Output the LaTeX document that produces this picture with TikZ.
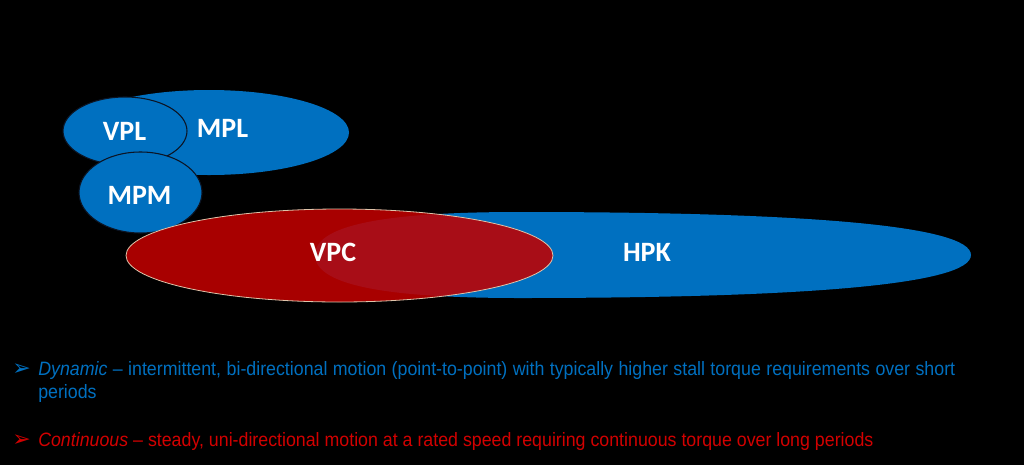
\documentclass[tikz,border=0pt]{standalone}
\usepackage{fontspec}
\usepackage{xcolor}
\usepackage{tikz}
\usetikzlibrary{shapes.geometric}
\setmainfont{Liberation Sans}
\newfontfamily\labelfont{Carlito}
\newfontfamily\notefont[FakeStretch=0.92]{Liberation Sans}
\newfontfamily\bulletfont{DejaVu Sans}
\definecolor{motorBlue}{RGB}{0,112,192}
\definecolor{motorRed}{RGB}{192,0,0}
\definecolor{noteRed}{RGB}{210,0,0}
\definecolor{rimTan}{RGB}{222,196,170}
\definecolor{rimDark}{RGB}{12,20,36}

\begin{document}
\begin{tikzpicture}[x=0.75pt,y=-0.75pt,
    blob/.style={ellipse, fill=motorBlue, inner sep=0pt},
    tag/.style={text=white, font=\labelfont\bfseries\fontsize{21}{21}\selectfont, inner sep=0pt},
    note/.style={anchor=base west, inner sep=0pt, font=\notefont\fontsize{14.5}{17.5}\selectfont, text width=687.75pt, align=justify},
    bullet/.style={anchor=base west, inner sep=0pt, font=\bulletfont\fontsize{16.5}{16.5}\selectfont}]
    \fill[black] (0,0) rectangle (1024,465);

    % upper group
    \node[blob, minimum width=210pt, minimum height=63.75pt] (mpl) at (209,132.5) {};
    \node[blob, draw=rimDark, line width=0.8pt, minimum width=93pt, minimum height=51pt] (vpl) at (125,131) {};
    \node[blob, draw=rimDark, line width=0.8pt, minimum width=92.25pt, minimum height=60.75pt] (mpm) at (140.5,192.5) {};
    \node[tag] (vpltag) at (124.5,131) {VPL};
    \node[tag] (mpltag) at (222.5,128) {MPL};
    \node[tag] (mpmtag) at (139.5,195) {MPM};

    % lower group
    \fill[motorBlue] (315,255) .. controls (315,222) and (400,212) .. (520,212)
        .. controls (800,212) and (971,225) .. (971,255)
        .. controls (971,285) and (800,298) .. (520,298)
        .. controls (400,298) and (315,288) .. cycle;
    \node[ellipse, inner sep=0pt, fill=motorRed, fill opacity=0.88, draw=rimTan, line width=0.6pt,
        minimum width=320.25pt, minimum height=69.75pt] (vpc) at (339.5,255.5) {};
    \node[tag] (vpctag) at (333,252.5) {VPC};
    \node[tag] (hpktag) at (647,252.5) {HPK};

    % notes
    \node[bullet, text=motorBlue] (dynbullet) at (12,375) {➢};
    \node[note, text=motorBlue] (dynnote) at (38,375) {\textit{Dynamic} – intermittent, bi-directional motion (point-to-point) with typically higher stall torque requirements over short\linebreak periods};
    \node[bullet, text=noteRed] (conbullet) at (12,446) {➢};
    \node[note, text=noteRed] (connote) at (38,446) {\textit{Continuous} – steady, uni-directional motion at a rated speed requiring continuous torque over long periods};
\end{tikzpicture}
\end{document}
